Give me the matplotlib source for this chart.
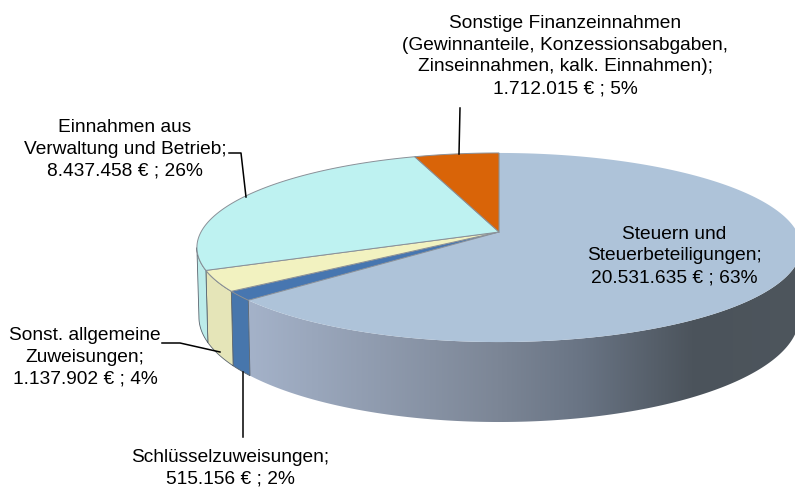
import numpy as np
import matplotlib
matplotlib.use('Agg')
import matplotlib.pyplot as plt
from matplotlib.colors import LinearSegmentedColormap
from matplotlib.patches import Polygon

plt.rcParams['font.family'] = ['Liberation Sans', 'DejaVu Sans']

categories = ['Steuern und\nSteuerbeteiligungen;',
              'Schlüsselzuweisungen;',
              'Sonst. allgemeine\nZuweisungen;',
              'Einnahmen aus\nVerwaltung und Betrieb;',
              'Sonstige Finanzeinnahmen\n(Gewinnanteile, Konzessionsabgaben,\nZinseinnahmen, kalk. Einnahmen);']
values = [20531635, 515156, 1137902, 8437458, 1712015]
percents = [63, 2, 4, 26, 5]
top_colors = ['#aec3d9', '#4776b0', '#f2f2c0', '#bef2f1', '#d96408']
wall_colors = [None, '#4776ac', '#e5e5b8', '#bcecea', '#d96408']
label_pos = [(674, 256), (230, 468), (85, 357), (125, 149), (565, 56)]

# leader lines, label side first
leaders = [None,
           [(243, 437), (243, 372)],
           [(162, 343), (180, 343), (220, 352)],
           [(229, 153), (241, 153), (246, 197)],
           [(460, 108), (459, 154)]]

CX, CY = 499, 232
TILT = 0.164


def project(theta, a, b, drop=0):
    # circle seen in perspective, theta clockwise from the far side
    u = np.sin(theta)
    v = -np.cos(theta)
    w = 1 - TILT * v
    return CX + a * u / w, CY + drop + b * v / w


def top_edge(theta):
    return project(theta, 298, 92)


def bottom_edge(theta):
    return project(theta, 296, 102, 68)


fig = plt.figure(figsize=(7.95, 4.87), dpi=100)
ax = fig.add_axes([0, 0, 1, 1])
ax.set_xlim(0, 795)
ax.set_ylim(487, 0)
ax.axis('off')

edges = np.concatenate([[0], np.cumsum(values)]) / np.sum(values) * 2 * np.pi

# outer wall, only the part turned to the viewer (between the two silhouette points)
sil = np.arccos(-TILT)
for i in range(len(values)):
    start = max(edges[i], sil)
    end = min(edges[i + 1], 2 * np.pi - sil)
    if end <= start:
        continue
    t = np.linspace(start, end, 200)
    xt, yt = top_edge(t)
    xb, yb = bottom_edge(t)
    pts = np.column_stack([np.r_[xt, xb[::-1]], np.r_[yt, yb[::-1]]])
    if wall_colors[i] is None:
        cmap = LinearSegmentedColormap.from_list('wall', [(0, '#a5b3ca'), (0.45, '#7c8696'),
                                                          (0.6, '#697484'), (0.8, '#4b535b'),
                                                          (1, '#4e565d')])
        im = ax.imshow(np.linspace(0, 1, 256)[None, :], cmap=cmap, aspect='auto',
                       extent=[xt.min() - 5, xb.max() + 10, 487, 0], zorder=1)
        im.set_clip_path(Polygon(pts, transform=ax.transData))
    else:
        ax.add_patch(Polygon(pts, closed=True, facecolor=wall_colors[i],
                             edgecolor='#5a646e', linewidth=0.6, zorder=2))

ax.set_xlim(0, 795)
ax.set_ylim(487, 0)

# top face
for i in range(len(values)):
    t = np.linspace(edges[i], edges[i + 1], 200)
    x, y = top_edge(t)
    pts = np.column_stack([np.r_[CX, x], np.r_[CY, y]])
    ax.add_patch(Polygon(pts, closed=True, facecolor=top_colors[i],
                         edgecolor='#8a9098' if i else 'none', linewidth=0.7, zorder=3))

x0, y0 = top_edge(0.0)
ax.plot([CX, x0], [CY, y0], color='#9aa4ae', linewidth=0.7, zorder=4)

for line in leaders:
    if line:
        ax.plot([p[0] for p in line], [p[1] for p in line], color='black', linewidth=1.1, zorder=5)

for name, val, pct, pos in zip(categories, values, percents, label_pos):
    amount = f'{val:,}'.replace(',', '.')
    ax.text(pos[0], pos[1], f'{name}\n{amount} € ; {pct}%', ha='center', va='center',
            fontsize=13.8, color='black', linespacing=1.36, zorder=6)

fig.savefig('out.png', dpi=100)
